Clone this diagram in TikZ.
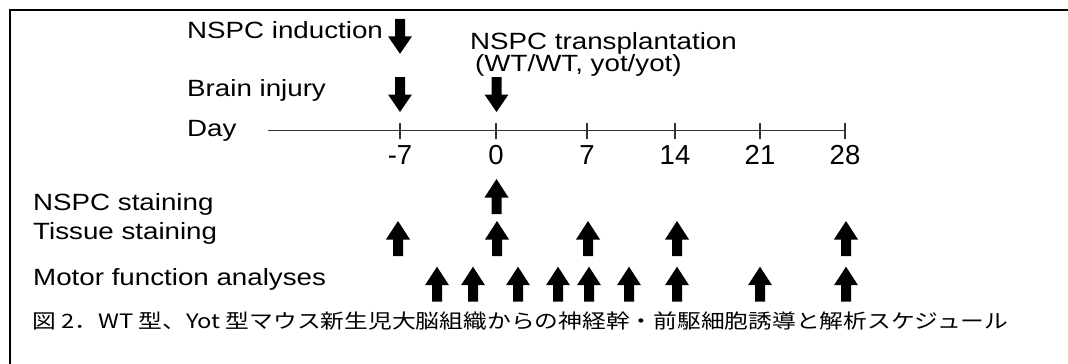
\documentclass[tikz,border=0pt]{standalone}
\usepackage{fontspec}
\setmainfont{Liberation Sans}[FakeStretch=1.18]
\newfontfamily\numfont{Liberation Sans}
\newfontfamily\cjk{Noto Sans CJK JP}[FakeStretch=1.2]
\begin{document}
\begin{tikzpicture}[x=1pt,y=-1pt,
  lab/.style={anchor=base west, inner sep=0pt, font=\fontsize{23.5}{24}\selectfont},
  num/.style={anchor=base, inner sep=0pt, font=\numfont\fontsize{27.5}{28}\selectfont},
  axis/.style={line width=1.4pt, draw=black!80},
  uparr/.pic={\fill (-5,17.5) -- (-5,1) -- (-12,1) -- (0,-17.5) -- (12,1) -- (5,1) -- (5,17.5) -- cycle;},
  downarr/.pic={\fill (-5,-17.5) -- (-5,0) -- (-12,0) -- (0,17.5) -- (12,0) -- (5,0) -- (5,-17.5) -- cycle;}]
\useasboundingbox (0,0) rectangle (1068,364);
\fill[white] (0,0) rectangle (1068,364);
\draw[line width=2.5pt] (10,364) -- (10,10) -- (1068,10);

% labels
\node[lab] (ind) at (187,38.3) {NSPC induction};
\node[lab] (bi) at (187,96) {Brain injury};
\node[lab] (day) at (187,136.7) {Day};
\node[lab] (tr1) at (470,49.3) {NSPC transplantation};
\node[lab] (tr2) at (475,71.7) {(WT/WT, yot/yot)};
\node[lab] (ns) at (33,210) {NSPC staining};
\node[lab] (ts) at (33,239.3) {Tissue staining};
\node[lab] (mf) at (33,285) {Motor function analyses};

% timeline
\coordinate (start) at (268,130.7);
\coordinate (tm7) at (400,130.7);
\coordinate (t0) at (496,130.7);
\coordinate (t7) at (587,130.7);
\coordinate (t14) at (675,130.7);
\coordinate (t21) at (760,130.7);
\coordinate (t28) at (845,130.7);
\draw[axis] (start) -- (t28);
\foreach \t in {tm7,t0,t7,t14,t21,t28}
  \draw[axis] ([yshift=8pt]\t) -- ([yshift=-8pt]\t);
\node[num] (lm7) at (400,164.5) {-7};
\node[num] (l0) at (496,164.5) {0};
\node[num] (l7) at (587,164.5) {7};
\node[num] (l14) at (675,164.5) {14};
\node[num] (l21) at (760,164.5) {21};
\node[num] (l28) at (845,164.5) {28};

% down arrows
\pic at (400,36.3) {downarr};
\pic at (400,94.5) {downarr};
\pic at (496.5,94.5) {downarr};

% up arrows
\pic at (496.5,196.5) {uparr};
\foreach \x in {398,497,588,677,846}
  \pic at (\x,238.5) {uparr};
\foreach \x in {437,473,518,558,589,629,677,760,846}
  \pic at (\x,284.2) {uparr};

% caption
\node[anchor=base west, inner sep=0pt, font=\cjk\fontsize{19.8}{20}\selectfont] (cap) at (32,328.5)
  {図 2．WT 型、Yot 型マウス新生児大脳組織からの神経幹・前駆細胞誘導と解析スケジュール};
\end{tikzpicture}
\end{document}
